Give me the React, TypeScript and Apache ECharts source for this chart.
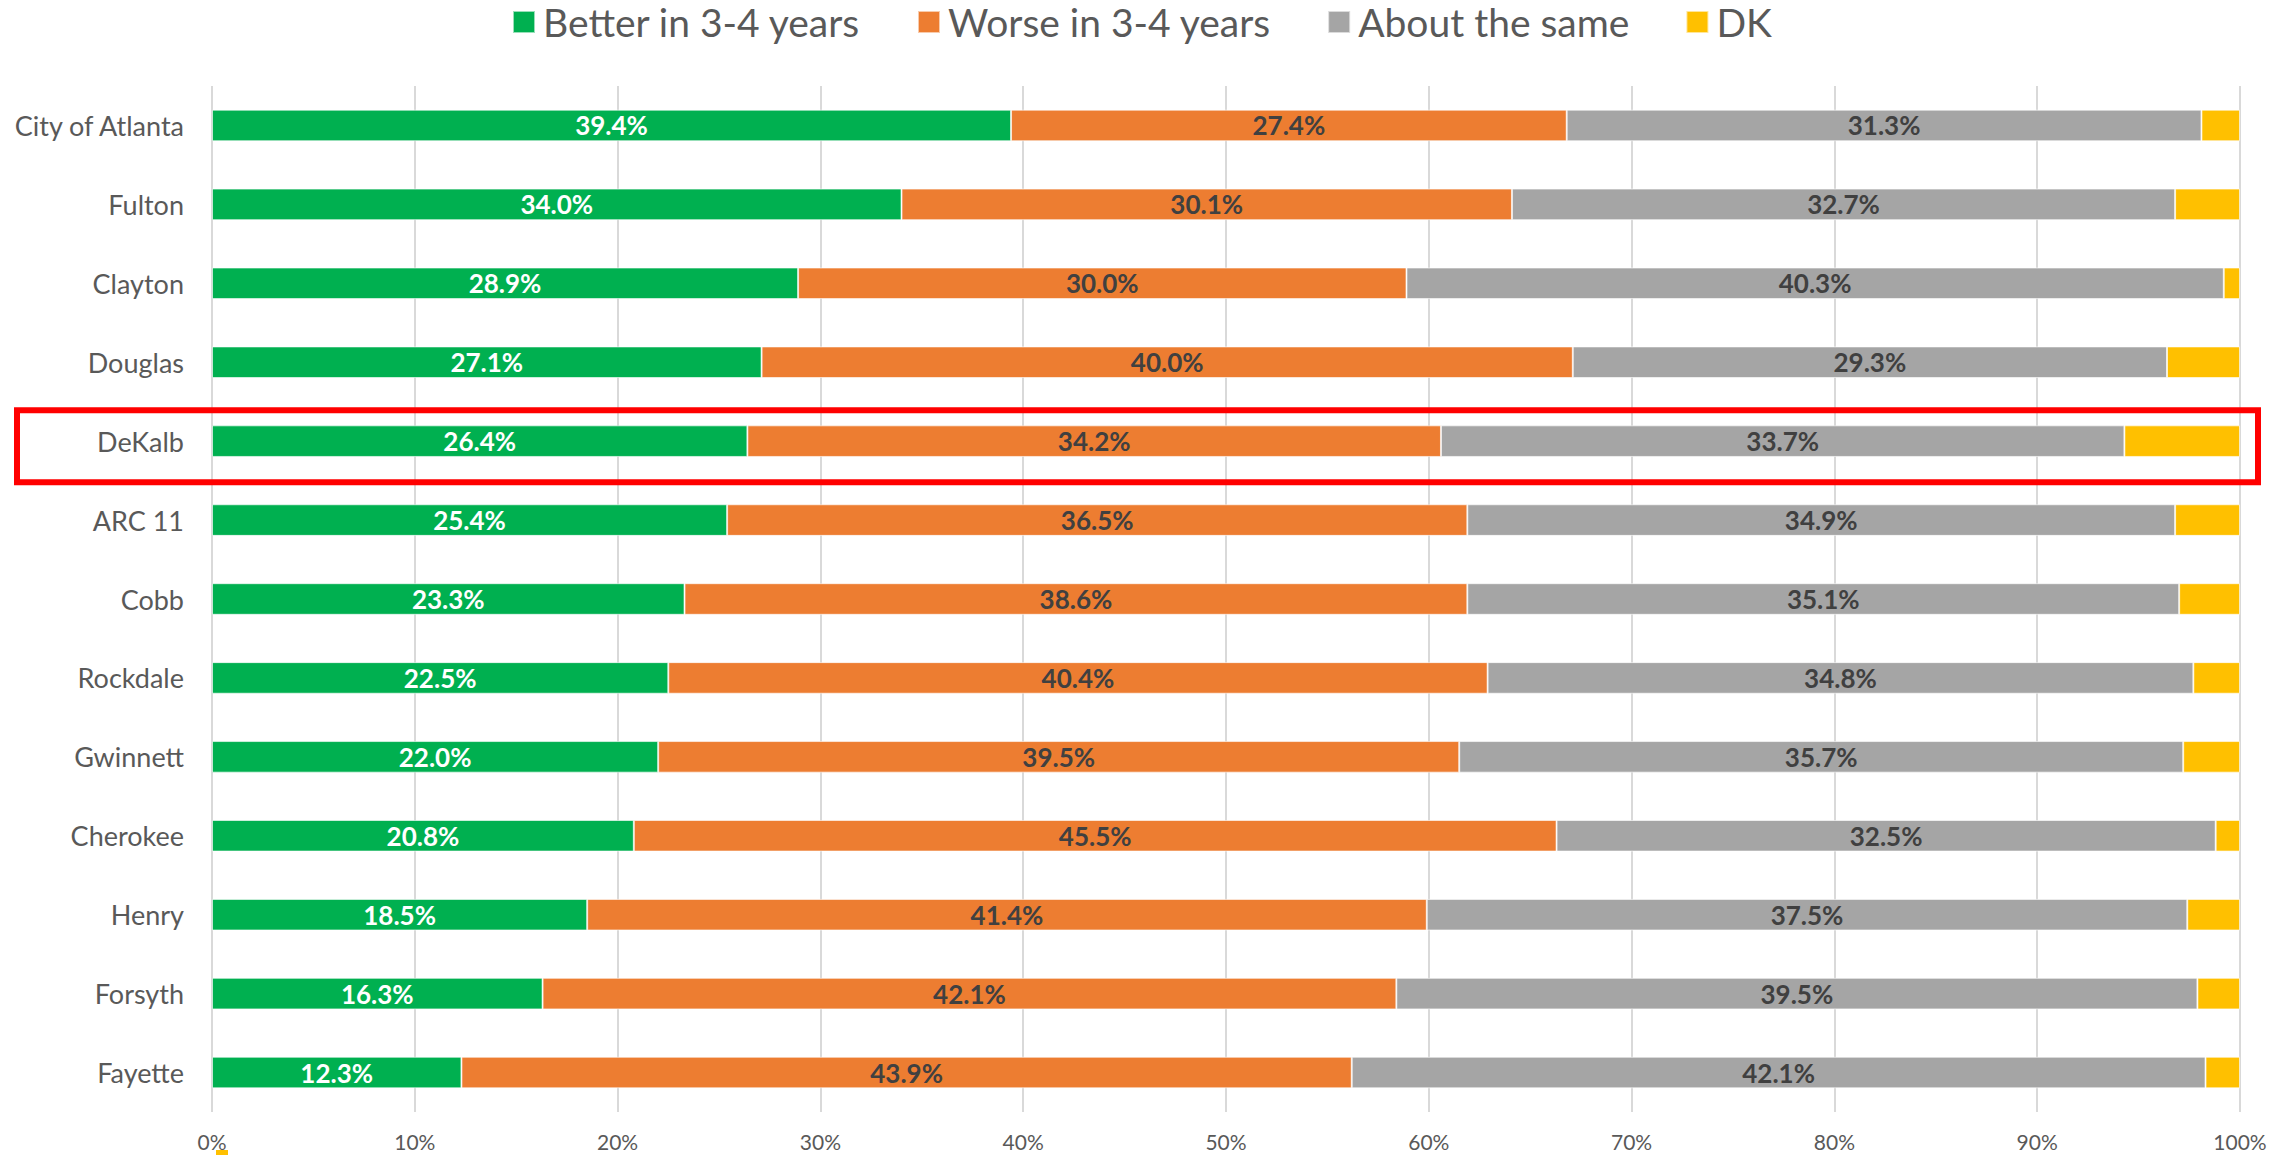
import React, { useEffect, useRef } from "react";
import * as echarts from "echarts";

const categories = [
  "City of Atlanta", "Fulton", "Clayton", "Douglas", "DeKalb", "ARC 11", "Cobb",
  "Rockdale", "Gwinnett", "Cherokee", "Henry", "Forsyth", "Fayette",
];
const better = [39.4, 34.0, 28.9, 27.1, 26.4, 25.4, 23.3, 22.5, 22.0, 20.8, 18.5, 16.3, 12.3];
const worse = [27.4, 30.1, 30.0, 40.0, 34.2, 36.5, 38.6, 40.4, 39.5, 45.5, 41.4, 42.1, 43.9];
const same = [31.3, 32.7, 40.3, 29.3, 33.7, 34.9, 35.1, 34.8, 35.7, 32.5, 37.5, 39.5, 42.1];
const dk = [1.9, 3.2, 0.8, 3.6, 5.7, 3.2, 3.0, 2.3, 2.8, 1.2, 2.6, 2.1, 1.7];
const seriesNames = ["Better in 3-4 years", "Worse in 3-4 years", "About the same", "DK"];
const xTicks = [0, 10, 20, 30, 40, 50, 60, 70, 80, 90, 100];
const highlighted = "DeKalb";

const FONT = "Lato, 'Noto Sans', sans-serif";
const colors = ["#00B050", "#ED7D31", "#A5A5A5", "#FFC000"];

export default function App() {
  const ref = useRef<HTMLDivElement>(null);
  useEffect(() => {
    if (!ref.current) return;
    const chart = echarts.init(ref.current, null, { renderer: "svg" });
    const mk = (name: string, data: number[], color: string, labelColor: string | null) => ({
      name,
      type: "bar",
      stack: "total",
      barWidth: "40%",
      data,
      itemStyle: { color, borderColor: "rgba(255,255,255,0.6)", borderWidth: 1 },
      label: labelColor
        ? {
            show: true,
            position: "inside",
            color: labelColor,
            fontFamily: FONT,
            fontWeight: "bold",
            fontSize: 26,
            formatter: (p: any) => p.value.toFixed(1) + "%",
          }
        : { show: false },
    });
    const option: any = {
      animation: false,
      backgroundColor: "#ffffff",
      color: colors,
      legend: {
        data: seriesNames,
        left: 512,
        top: 0,
        padding: 0,
        itemWidth: 22,
        itemHeight: 22,
        itemGap: 56,
        icon: "rect",
        textStyle: {
          fontFamily: FONT,
          fontSize: 39,
          lineHeight: 44,
          color: "#595959",
          padding: [0, 0, 0, 3],
        },
      },
      grid: { left: 212, right: 45, top: 86, bottom: 43, containLabel: false },
      xAxis: {
        type: "value",
        min: xTicks[0],
        max: xTicks[xTicks.length - 1],
        interval: 10,
        axisLine: { show: false },
        axisTick: { show: false },
        splitLine: { show: true, lineStyle: { color: "#D9D9D9", width: 2 } },
        axisLabel: {
          formatter: "{value}%",
          fontFamily: FONT,
          fontSize: 21,
          color: "#595959",
          margin: 19,
        },
      },
      yAxis: {
        type: "category",
        data: categories,
        inverse: true,
        axisLine: { show: false },
        axisTick: { show: false },
        splitLine: { show: false },
        axisLabel: { fontFamily: FONT, fontSize: 27, color: "#595959", margin: 28 },
      },
      series: [
        mk(seriesNames[0], better, colors[0], "#ffffff"),
        mk(seriesNames[1], worse, colors[1], "#404040"),
        mk(seriesNames[2], same, colors[2], "#404040"),
        mk(seriesNames[3], dk, colors[3], null),
      ],
    };
    chart.setOption(option);
    const yC = chart.convertToPixel({ yAxisIndex: 0 }, highlighted) as number;
    const x0 = chart.convertToPixel({ xAxisIndex: 0 }, 0) as number;
    chart.setOption({
      graphic: [
        {
          type: "rect",
          shape: { x: 17, y: yC - 31, width: 2241, height: 72 },
          style: { fill: "none", stroke: "#FF0000", lineWidth: 6 },
          z: 100,
        },
        {
          type: "rect",
          shape: { x: x0 + 4, y: 1150, width: 12, height: 5 },
          style: { fill: "#FFC000" },
          z: 100,
        },
      ],
    });
    return () => chart.dispose();
  }, []);
  return (
    <div
      ref={ref}
      style={{ position: "fixed", left: 0, top: 0, width: 2285, height: 1155, background: "#fff" }}
    />
  );
}
